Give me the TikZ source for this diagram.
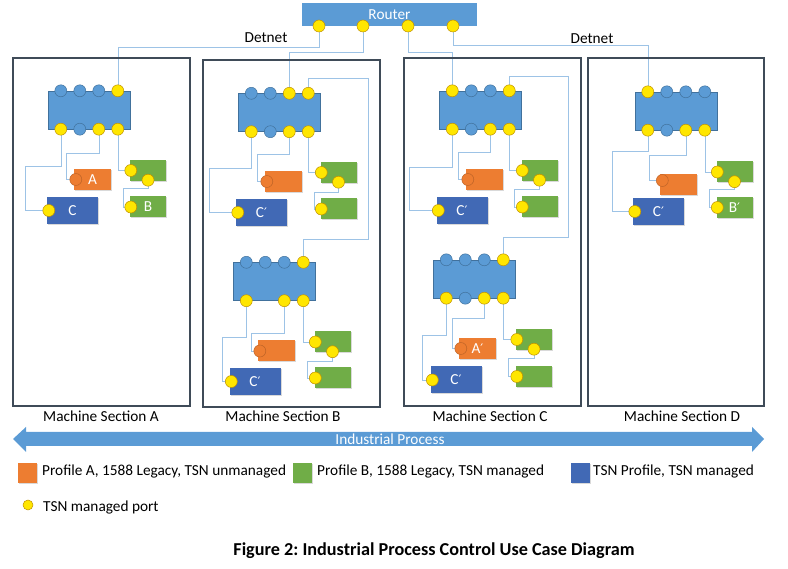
\documentclass[tikz,border=0pt]{standalone}
\usepackage{fontspec}
\setmainfont{Carlito}
\newfontfamily\primefont{DejaVu Sans}
\usetikzlibrary{backgrounds,shadows}

\definecolor{swblue}{HTML}{5B9BD5}
\definecolor{swedge}{HTML}{41719C}
\definecolor{devblue}{HTML}{4169B5}
\definecolor{devorange}{HTML}{ED7D31}
\definecolor{devgreen}{HTML}{70AD47}
\definecolor{portyellow}{HTML}{FFE600}
\definecolor{portedge}{HTML}{BF9000}
\definecolor{wireblue}{HTML}{9DC3E6}
\definecolor{framegray}{HTML}{3F4B58}

\newcommand\dgfont{\fontsize{15.3}{18}\selectfont}
\newcommand\pr{{\primefont\fontsize{13}{15}\selectfont ′}}
\frenchspacing

\tikzset{
  txt/.style={inner sep=0pt},
  router/.style={rectangle, fill=swblue, inner sep=0pt, minimum width=175pt, minimum height=23pt, text=white},
  sw/.style={rectangle, fill=swblue, draw=swedge, line width=0.4pt, minimum width=82pt, minimum height=38pt, inner sep=0pt},
  yport/.style={circle, fill=portyellow, draw=portedge, line width=0.5pt, minimum size=12pt, inner sep=0pt},
  bport/.style={circle, fill=swblue, draw=swedge, line width=0.5pt, minimum size=12pt, inner sep=0pt},
  oport/.style={circle, fill=devorange, draw=devorange!80!black, line width=0.5pt, minimum size=12pt, inner sep=0pt},
  dev/.style={rectangle, inner sep=0pt, text=white, drop shadow={shadow xshift=1pt, shadow yshift=-1pt, opacity=0.3}},
  odev/.style={dev, fill=devorange, minimum width=37pt, minimum height=21pt},
  gdev/.style={dev, fill=devgreen, minimum width=36pt, minimum height=21pt},
  bdev/.style={dev, fill=devblue, minimum width=51pt, minimum height=27pt},
  wire/.style={draw=wireblue, line width=0.6pt},
  section/.style={draw=framegray, line width=1.4pt, inner sep=0pt},
}

\begin{document}
\begin{tikzpicture}[x=1pt, y=-1pt, font=\dgfont]
    \useasboundingbox (0,0) rectangle (788,569);

    % Router
    \node[router] (rt) at (389.5,14.5) {Router};
    \foreach \i/\x in {1/319,2/363,3/408,4/453}
        \node[yport] (rt-\i) at (\x,26) {};
    \node[txt] (dn1) at (266,38) {Detnet};
    \node[txt] (dn2) at (592,39) {Detnet};

    % Machine sections
    \node[section, minimum width=177pt, minimum height=348pt] (secA) at (101.5,232) {};
    \node[section, minimum width=177pt, minimum height=347pt] (secB) at (291.5,233.5) {};
    \node[section, minimum width=177pt, minimum height=348pt] (secC) at (492.5,232) {};
    \node[section, minimum width=176pt, minimum height=348pt] (secD) at (676,232) {};
    \node[txt] (labA) at (101,416) {Machine Section A};
    \node[txt] (labB) at (283,416) {Machine Section B};
    \node[txt] (labC) at (490,416) {Machine Section C};
    \node[txt] (labD) at (682,416) {Machine Section D};

    % Switches
    \node[sw] (swA) at (89,110) {};
    \foreach \i/\s in {1/bport,2/bport,3/bport,4/yport}
        \node[\s] (swA-t\i) at ([xshift={(19*\i-6)*1pt}]swA.north west) {};
    \foreach \i/\s in {1/yport,2/bport,3/yport,4/yport}
        \node[\s] (swA-b\i) at ([xshift={(19*\i-6)*1pt}]swA.south west) {};

    \node[sw] (swB) at (279.5,112.5) {};
    \foreach \i/\s in {1/bport,2/bport,3/yport,4/yport}
        \node[\s] (swB-t\i) at ([xshift={(19*\i-6)*1pt}]swB.north west) {};
    \foreach \i/\s in {1/yport,2/bport,3/yport,4/yport}
        \node[\s] (swB-b\i) at ([xshift={(19*\i-6)*1pt}]swB.south west) {};

    \node[sw] (swBB) at (274.5,281.5) {};
    \foreach \i/\s in {1/bport,2/bport,3/bport,4/yport}
        \node[\s] (swBB-t\i) at ([xshift={(19*\i-6)*1pt}]swBB.north west) {};
    \foreach \i/\s in {1/yport,3/yport,4/yport}
        \node[\s] (swBB-b\i) at ([xshift={(19*\i-6)*1pt}]swBB.south west) {};

    \node[sw] (swC) at (480.5,110) {};
    \foreach \i/\s in {1/yport,2/bport,3/bport,4/yport}
        \node[\s] (swC-t\i) at ([xshift={(19*\i-6)*1pt}]swC.north west) {};
    \foreach \i/\s in {1/yport,2/bport,3/yport,4/yport}
        \node[\s] (swC-b\i) at ([xshift={(19*\i-6)*1pt}]swC.south west) {};

    \node[sw] (swCC) at (474.5,279) {};
    \foreach \i/\s in {1/bport,2/bport,3/bport,4/yport}
        \node[\s] (swCC-t\i) at ([xshift={(19*\i-6)*1pt}]swCC.north west) {};
    \foreach \i/\s in {1/yport,2/bport,3/yport,4/yport}
        \node[\s] (swCC-b\i) at ([xshift={(19*\i-6)*1pt}]swCC.south west) {};

    \node[sw] (swD) at (676,111) {};
    \foreach \i/\s in {1/yport,2/bport,3/bport,4/bport}
        \node[\s] (swD-t\i) at ([xshift={(19*\i-6)*1pt}]swD.north west) {};
    \foreach \i/\s in {1/yport,2/bport,3/yport,4/yport}
        \node[\s] (swD-b\i) at ([xshift={(19*\i-6)*1pt}]swD.south west) {};

    % Devices, section A
    \node[odev] (oA) at (92.5,179.5) {A};
    \node[oport] (oA-p) at ([xshift=2pt]oA.west) {};
    \node[gdev] (gA1) at (148,170.5) {};
    \node[yport] (gA1-l) at ([xshift=1pt]gA1.west) {};
    \node[yport] (gA1-b) at ([yshift=1pt]gA1.south) {};
    \node[gdev] (gA2) at (148,207) {B};
    \node[yport] (gA2-l) at ([xshift=1pt]gA2.west) {};
    \node[bdev] (cA) at (72.5,210.5) {C};
    \node[yport] (cA-p) at ([xshift=2pt]cA.west) {};

    % Devices, section B
    \node[odev] (oB) at (283.5,181.5) {};
    \node[oport] (oB-p) at ([xshift=2pt]oB.west) {};
    \node[gdev] (gB1) at (338.5,172.5) {};
    \node[yport] (gB1-l) at ([xshift=1pt]gB1.west) {};
    \node[yport] (gB1-b) at ([yshift=1pt]gB1.south) {};
    \node[gdev] (gB2) at (338.5,209) {};
    \node[yport] (gB2-l) at ([xshift=1pt]gB2.west) {};
    \node[bdev] (cB) at (261.5,212.5) {C\pr};
    \node[yport] (cB-p) at ([xshift=2pt]cB.west) {};

    \node[odev] (oBB) at (276.5,351) {};
    \node[oport] (oBB-p) at ([xshift=2pt]oBB.west) {};
    \node[gdev] (gBB1) at (332.5,342) {};
    \node[yport] (gBB1-l) at ([xshift=1pt]gBB1.west) {};
    \node[yport] (gBB1-b) at ([yshift=1pt]gBB1.south) {};
    \node[gdev] (gBB2) at (332.5,378) {};
    \node[yport] (gBB2-l) at ([xshift=1pt]gBB2.west) {};
    \node[bdev] (cBB) at (255,381.5) {C\pr};
    \node[yport] (cBB-p) at ([xshift=2pt]cBB.west) {};

    % Devices, section C
    \node[odev] (oC) at (484.5,179.5) {};
    \node[oport] (oC-p) at ([xshift=2pt]oC.west) {};
    \node[gdev] (gC1) at (539.5,170.5) {};
    \node[yport] (gC1-l) at ([xshift=1pt]gC1.west) {};
    \node[yport] (gC1-b) at ([yshift=1pt]gC1.south) {};
    \node[gdev] (gC2) at (539.5,207) {};
    \node[yport] (gC2-l) at ([xshift=1pt]gC2.west) {};
    \node[bdev] (cC) at (462,210.5) {C\pr};
    \node[yport] (cC-p) at ([xshift=2pt]cC.west) {};

    \node[odev] (oCC) at (477.5,348.5) {A\pr};
    \node[oport] (oCC-p) at ([xshift=2pt]oCC.west) {};
    \node[gdev] (gCC1) at (534,339.5) {};
    \node[yport] (gCC1-l) at ([xshift=1pt]gCC1.west) {};
    \node[yport] (gCC1-b) at ([yshift=1pt]gCC1.south) {};
    \node[gdev] (gCC2) at (534,376.5) {};
    \node[yport] (gCC2-l) at ([xshift=1pt]gCC2.west) {};
    \node[bdev] (cCC) at (456,380) {C\pr};
    \node[yport] (cCC-p) at ([xshift=2pt]cCC.west) {};

    % Devices, section D
    \node[odev] (oD) at (678,184.5) {};
    \node[oport] (oD-p) at ([xshift=3pt,yshift=4pt]oD.west) {};
    \node[gdev] (gD1) at (734.5,172) {};
    \node[yport] (gD1-l) at ([xshift=1pt]gD1.west) {};
    \node[yport] (gD1-b) at ([yshift=1pt]gD1.south) {};
    \node[gdev] (gD2) at (734.5,207.5) {B\pr};
    \node[yport] (gD2-l) at ([xshift=1pt]gD2.west) {};
    \node[bdev] (cD) at (658.5,211.5) {C\pr};
    \node[yport] (cD-p) at ([xshift=2pt]cD.west) {};

    % Wires
    \begin{scope}[on background layer]
        \draw[wire] (rt-1.center) -- ++(0,21) -| (swA-t4.center);
        \draw[wire] (rt-2.center) -- ++(0,26) -| (swB-t3.center);
        \draw[wire] (rt-3.center) -- ++(0,26) -| (swC-t1.center);
        \draw[wire] (rt-4.center) -- ++(0,19) -| (swD-t1.center);

        \draw[wire] (swA-b1.center) |- (25,166) |- (cA-p.center);
        \draw[wire] (swA-b3.center) |- (66,153) |- (oA-p.center);
        \draw[wire] (swA-b4.center) |- (gA1-l.center);
        \draw[wire] (gA1-b.center) |- (123,188) |- (gA2-l.center);

        \draw[wire] (swB-t4.center) |- (368,78) -- (368,239) -| (swBB-t4.center);
        \draw[wire] (swB-b1.center) |- (209,168) |- (cB-p.center);
        \draw[wire] (swB-b3.center) |- (257,154) |- (oB-p.center);
        \draw[wire] (swB-b4.center) |- (gB1-l.center);
        \draw[wire] (gB1-b.center) |- (314,192) |- (gB2-l.center);
        \draw[wire] (swBB-b1.center) |- (222,337) |- (cBB-p.center);
        \draw[wire] (swBB-b3.center) |- (251,333) |- (oBB-p.center);
        \draw[wire] (swBB-b4.center) |- (gBB1-l.center);
        \draw[wire] (gBB1-b.center) |- (307,361) |- (gBB2-l.center);

        \draw[wire] (swC-t4.center) |- (568,76) -- (568,237) -| (swCC-t4.center);
        \draw[wire] (swC-b1.center) |- (409,167) |- (cC-p.center);
        \draw[wire] (swC-b3.center) |- (458,152) |- (oC-p.center);
        \draw[wire] (swC-b4.center) |- (gC1-l.center);
        \draw[wire] (gC1-b.center) |- (514,189) |- (gC2-l.center);
        \draw[wire] (swCC-b1.center) |- (422,335) |- (cCC-p.center);
        \draw[wire] (swCC-b3.center) |- (452,318) |- (oCC-p.center);
        \draw[wire] (swCC-b4.center) |- (gCC1-l.center);
        \draw[wire] (gCC1-b.center) |- (508,358) |- (gCC2-l.center);

        \draw[wire] (swD-b1.center) |- (612,151) |- (cD-p.center);
        \draw[wire] (swD-b3.center) |- (649,155) |- (oD-p.center);
        \draw[wire] (swD-b4.center) |- (gD1-l.center);
        \draw[wire] (gD1-b.center) |- (709,189) |- (gD2-l.center);
    \end{scope}

    % Industrial process arrow
    \fill[swblue] (13,439) -- (26,427) -- (26,432) -- (752,432) -- (752,427) -- (764,439)
        -- (752,452) -- (752,446) -- (26,446) -- (26,452) -- cycle;
    \node[txt, text=white] (proc) at (390,439) {Industrial Process};

    % Legend
    \node[odev, minimum width=19pt, minimum height=20pt] (keyA) at (27.5,473) {};
    \node[txt, anchor=west] (keyAt) at (42,472) {Profile A, 1588 Legacy, TSN unmanaged};
    \node[gdev, minimum width=19pt, minimum height=20pt] (keyB) at (302.5,473) {};
    \node[txt, anchor=west] (keyBt) at (317,472) {Profile B, 1588 Legacy, TSN managed};
    \node[bdev, minimum width=19pt, minimum height=20pt] (keyC) at (580.5,473) {};
    \node[txt, anchor=west] (keyCt) at (593,472) {TSN Profile, TSN managed};
    \node[yport, minimum size=10pt] (keyP) at (28,505) {};
    \node[txt, anchor=west] (keyPt) at (43,508) {TSN managed port};

    % Caption
    \node[txt, font=\fontsize{18.2}{21}\selectfont\bfseries] (cap) at (434,551) {Figure 2: Industrial Process Control Use Case Diagram};
\end{tikzpicture}
\end{document}
